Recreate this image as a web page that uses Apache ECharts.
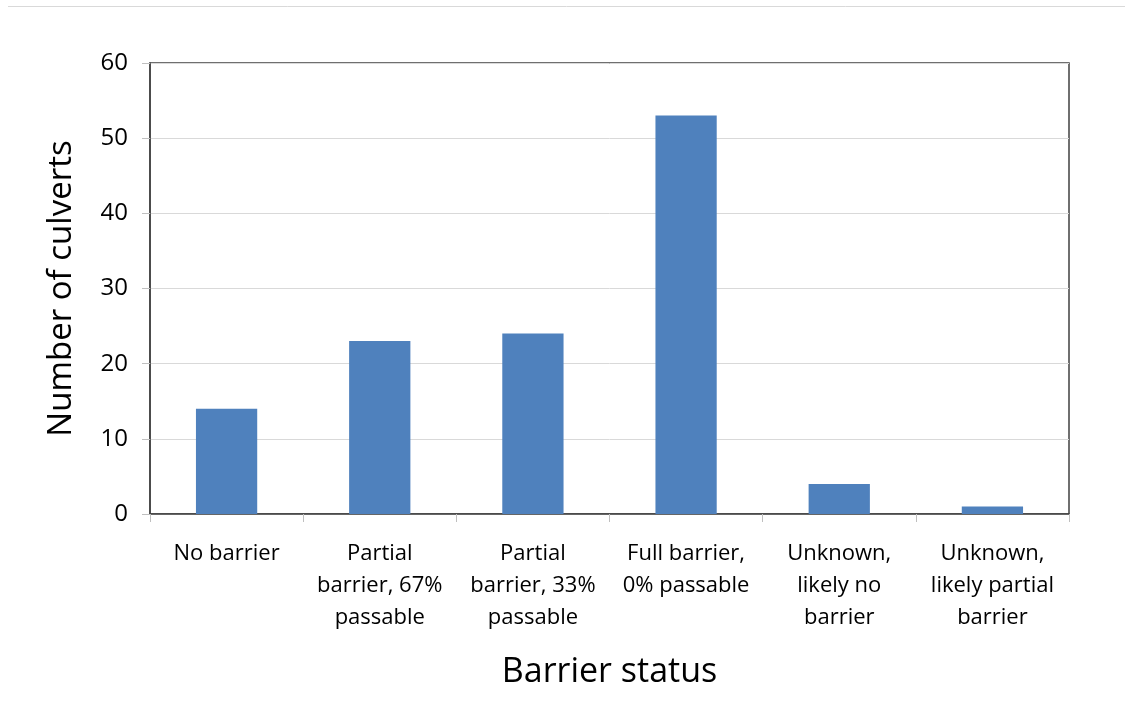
<!DOCTYPE html>
<html>
<head>
<meta charset="utf-8">
<script src="https://cdn.jsdelivr.net/npm/echarts@6/dist/echarts.min.js"></script>
<style>
html,body{margin:0;padding:0;background:#fff;}
#chart{width:1125px;height:725px;}
</style>
</head>
<body>
<div id="chart"></div>
<script>
const categories = [
  "No barrier",
  "Partial\nbarrier, 67%\npassable",
  "Partial\nbarrier, 33%\npassable",
  "Full barrier,\n0% passable",
  "Unknown,\nlikely no\nbarrier",
  "Unknown,\nlikely partial\nbarrier"
];
const culverts = [14, 23, 24, 53, 4, 1];
const yTicks = { min: 0, max: 60, interval: 10 };

const chart = echarts.init(document.getElementById('chart'));
const FONT = '"Open Sans", "Noto Sans", sans-serif';
chart.setOption({
  animation: false,
  textStyle: { fontFamily: FONT },
  grid: { left: 150, right: 56, top: 63, bottom: 211, show: true, borderColor: '#404040', borderWidth: 1.5, backgroundColor: 'transparent' },
  graphic: [
    { type: 'line', shape: { x1: 8, y1: 6.5, x2: 1125, y2: 6.5 }, style: { stroke: '#d9d9d9', lineWidth: 1 } }
  ],
  xAxis: {
    type: 'category',
    data: categories,
    name: 'Barrier status',
    nameLocation: 'middle',
    nameGap: 141,
    nameTextStyle: { fontSize: 34, color: '#000', fontFamily: FONT },
    axisLine: { show: true, lineStyle: { color: '#404040', width: 1.5 } },
    axisTick: { show: true, length: 8, lineStyle: { color: '#bfbfbf' } },
    axisLabel: { fontSize: 22, color: '#000', margin: 24, lineHeight: 32, interval: 0, fontFamily: FONT }
  },
  yAxis: {
    type: 'value',
    min: yTicks.min, max: yTicks.max, interval: yTicks.interval,
    name: 'Number of culverts',
    nameLocation: 'middle',
    nameGap: 72,
    nameTextStyle: { fontSize: 33, color: '#000', fontFamily: FONT },
    axisLine: { show: true, lineStyle: { color: '#404040', width: 1.5 } },
    axisTick: { show: true, length: 8, lineStyle: { color: '#bfbfbf' } },
    axisLabel: { fontSize: 24, color: '#000', margin: 22, fontFamily: FONT },
    splitLine: { show: true, lineStyle: { color: '#d9d9d9', width: 1 } }
  },
  series: [{
    type: 'bar',
    data: culverts,
    barWidth: '40%',
    itemStyle: { color: '#4F81BD' }
  }]
});
</script>
</body>
</html>
